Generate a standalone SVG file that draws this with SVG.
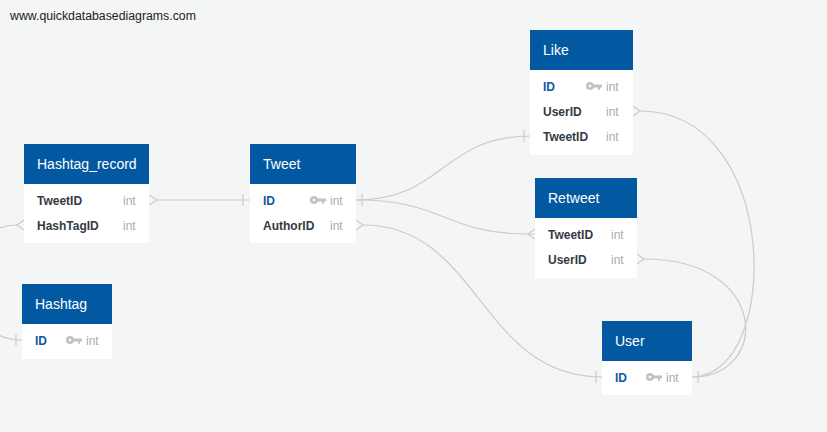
<svg xmlns="http://www.w3.org/2000/svg" width="827" height="432" viewBox="0 0 827 432">
<defs>
<style>
.hdr{fill:#0359a1}
.body{fill:#ffffff}
.title{font-family:"Liberation Sans",Arial,sans-serif;font-size:14px;fill:#ffffff}
.f{font-family:"Liberation Sans",Arial,sans-serif;font-size:12px;font-weight:bold;fill:#333a44}
.pk{font-family:"Liberation Sans",Arial,sans-serif;font-size:12px;font-weight:bold;fill:#0b5aa2}
.t{font-family:"Liberation Sans",Arial,sans-serif;font-size:12px;fill:#a9adb1}
.c{fill:none;stroke:#c9cbcc;stroke-width:1.2}
.m{fill:none;stroke:#c9cbcc;stroke-width:1.2}
.site{font-family:"Liberation Sans",Arial,sans-serif;font-size:12.3px;fill:#222222}
</style>
<g id="key">
<circle cx="4" cy="0" r="4" fill="#c0c3c6"/>
<circle cx="4" cy="0" r="1.3" fill="#ffffff"/>
<path d="M7,-1.6 H16 V1.6 H14 V3.8 H12 V1.6 H7 Z" fill="#c0c3c6"/>
</g>
</defs>
<rect x="0" y="0" width="827" height="432" fill="#f4f5f5"/>
<text class="site" x="10" y="20">www.quickdatabasediagrams.com</text>

<g id="connectors">
<path class="c" d="M157,200 L250,200"/>
<path class="m" d="M149,195 L157,200 L149,205"/>
<path class="m" d="M243,194 V206"/>

<path class="c" d="M356,200 C443,200 443,136 530,136"/>
<path class="m" d="M362,194 V206"/>
<path class="m" d="M524,130 V142"/>

<path class="c" d="M356,200 C445,200 445,234 528,234 L535,234"/>
<path class="m" d="M535,229 L528,234 L535,239"/>

<path class="c" d="M363,225 C480,225 480,377 602,377"/>
<path class="m" d="M356,220 L363,225 L356,230"/>
<path class="m" d="M596,371 V383"/>

<path class="c" d="M640,111 C782,111 782,377 692,377"/>
<path class="m" d="M633,106 L640,111 L633,116"/>

<path class="c" d="M644,259 C770,259 770,377 692,377"/>
<path class="m" d="M637,254 L644,259 L637,264"/>
<path class="m" d="M698,371 V383"/>

<path class="c" d="M17,225 C-48,225 -48,340 22,340"/>
<path class="m" d="M24,220 L17,225 L24,230"/>
<path class="m" d="M16,334 V346"/>
</g>

<g id="Hashtag_record">
<rect class="body" x="24" y="184" width="125" height="59"/>
<rect class="hdr" x="24" y="144" width="125" height="40"/>
<text class="title" x="37" y="169">Hashtag_record</text>
<text class="f" x="37" y="205">TweetID</text>
<text class="t" x="123" y="205">int</text>
<text class="f" x="37" y="230">HashTagID</text>
<text class="t" x="123" y="230">int</text>
</g>

<g id="Tweet">
<rect class="body" x="250" y="184" width="106" height="59"/>
<rect class="hdr" x="250" y="144" width="106" height="40"/>
<text class="title" x="263" y="169">Tweet</text>
<text class="pk" x="263" y="205">ID</text>
<use href="#key" x="310" y="200"/>
<text class="t" x="330" y="205">int</text>
<text class="f" x="263" y="230">AuthorID</text>
<text class="t" x="330" y="230">int</text>
</g>

<g id="Like">
<rect class="body" x="530" y="70" width="103" height="85"/>
<rect class="hdr" x="530" y="30" width="103" height="40"/>
<text class="title" x="543" y="55">Like</text>
<text class="pk" x="543" y="91">ID</text>
<use href="#key" x="586" y="86"/>
<text class="t" x="606" y="91">int</text>
<text class="f" x="543" y="116">UserID</text>
<text class="t" x="606" y="116">int</text>
<text class="f" x="543" y="141">TweetID</text>
<text class="t" x="606" y="141">int</text>
</g>

<g id="Retweet">
<rect class="body" x="535" y="218" width="102" height="60"/>
<rect class="hdr" x="535" y="178" width="102" height="40"/>
<text class="title" x="548" y="203">Retweet</text>
<text class="f" x="548" y="239">TweetID</text>
<text class="t" x="611" y="239">int</text>
<text class="f" x="548" y="264">UserID</text>
<text class="t" x="611" y="264">int</text>
</g>

<g id="User">
<rect class="body" x="602" y="361" width="90" height="34"/>
<rect class="hdr" x="602" y="321" width="90" height="40"/>
<text class="title" x="615" y="346">User</text>
<text class="pk" x="615" y="382">ID</text>
<use href="#key" x="646" y="377"/>
<text class="t" x="666" y="382">int</text>
</g>

<g id="Hashtag">
<rect class="body" x="22" y="324" width="90" height="35"/>
<rect class="hdr" x="22" y="284" width="90" height="40"/>
<text class="title" x="35" y="309">Hashtag</text>
<text class="pk" x="35" y="345">ID</text>
<use href="#key" x="66" y="340"/>
<text class="t" x="86" y="345">int</text>
</g>
</svg>
